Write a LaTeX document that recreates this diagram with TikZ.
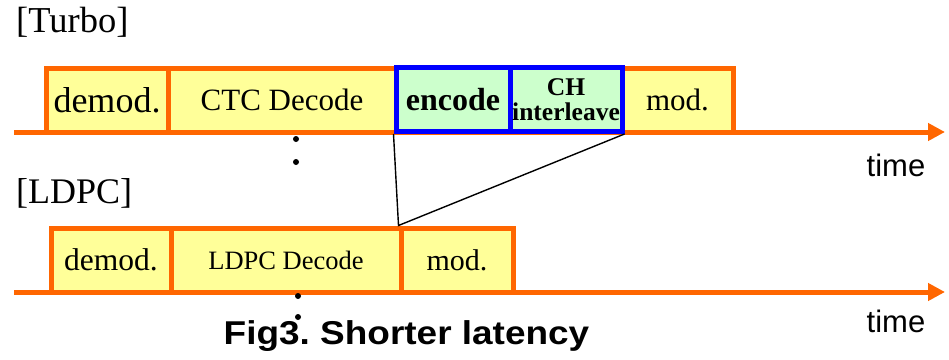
\documentclass[tikz,border=0pt]{standalone}
\usepackage{fontspec}
\setmainfont{Liberation Serif}
\setsansfont{Liberation Sans}
\usepackage{tikz}
\usetikzlibrary{arrows.meta}
\definecolor{tlorange}{HTML}{FF6600}
\definecolor{tlyellow}{HTML}{FFFF99}
\definecolor{tlgreen}{HTML}{CCFFCC}
\definecolor{tlblue}{HTML}{0000FF}
\newcommand{\fs}[1]{\fontsize{#1}{#1}\selectfont}
\frenchspacing

\begin{document}
\begin{tikzpicture}[x=1pt,y=-1pt,
  phase/.style={draw=tlorange,fill=tlyellow,line width=5pt,inner sep=0pt,
    minimum height=64pt},
  codephase/.style={phase,draw=tlblue,fill=tlgreen},
  axis/.style={draw=tlorange,line width=5pt,
    -{Triangle[length=17pt,width=17pt]}},
  timelabel/.style={font=\sffamily\fs{31},inner sep=0pt}]
\useasboundingbox (0,0) rectangle (949,359);

% Turbo
\node[anchor=base west,inner sep=0pt,font=\fs{36.5}] (turbo) at (16,32) {[Turbo]};
\coordinate (ta) at (14,132);
\coordinate (tb) at (945,132);
\draw[axis] (ta) -- (tb);
\node[phase,minimum width=122pt,font=\fs{36}] (tdemod) at (107,100) {demod.};
\node[phase,minimum width=228pt,font=\fs{31}] (tctc) at (282,100) {CTC Decode};
\node[phase,minimum width=111pt,font=\fs{31}] (tmod) at (677.5,100) {mod.};
\node[codephase,minimum width=114pt,font=\bfseries\fs{32}] (tenc) at (453,99.5) {encode};
\node[codephase,minimum width=112pt,font=\bfseries\fs{25.5},align=center] (tint) at (566,99.5)
  {\fontsize{25.5}{28}\selectfont CH\\interleave};
\fill (296,139) circle (3pt) (296,162) circle (3pt);
\node[timelabel] (ttime) at (896,165) {time};

% LDPC
\node[anchor=base west,inner sep=0pt,font=\fs{36}] (ldpc) at (16,203) {[LDPC]};
\coordinate (la) at (14,292);
\coordinate (lb) at (945,292);
\draw[axis] (la) -- (lb);
\node[phase,minimum width=120pt,font=\fs{31.5}] (ldemod) at (111,260) {demod.};
\node[phase,minimum width=230pt,font=\fs{26.5}] (ldec) at (286,260) {LDPC Decode};
\node[phase,minimum width=112pt,font=\fs{30}] (lmod) at (457,260) {mod.};
\fill (298,296) circle (3pt) (298,317) circle (3pt);
\node[timelabel] (ltime) at (896,321) {time};

\draw[line width=1.4pt] (tenc.south west) -- (lmod.north west) -- (tint.south east);

\node[anchor=base,inner sep=0pt,font=\sffamily\bfseries\fs{33}] (caption) at (406.5,344)
  {\scalebox{1.12}[1]{Fig3. Shorter latency}};
\end{tikzpicture}
\end{document}
